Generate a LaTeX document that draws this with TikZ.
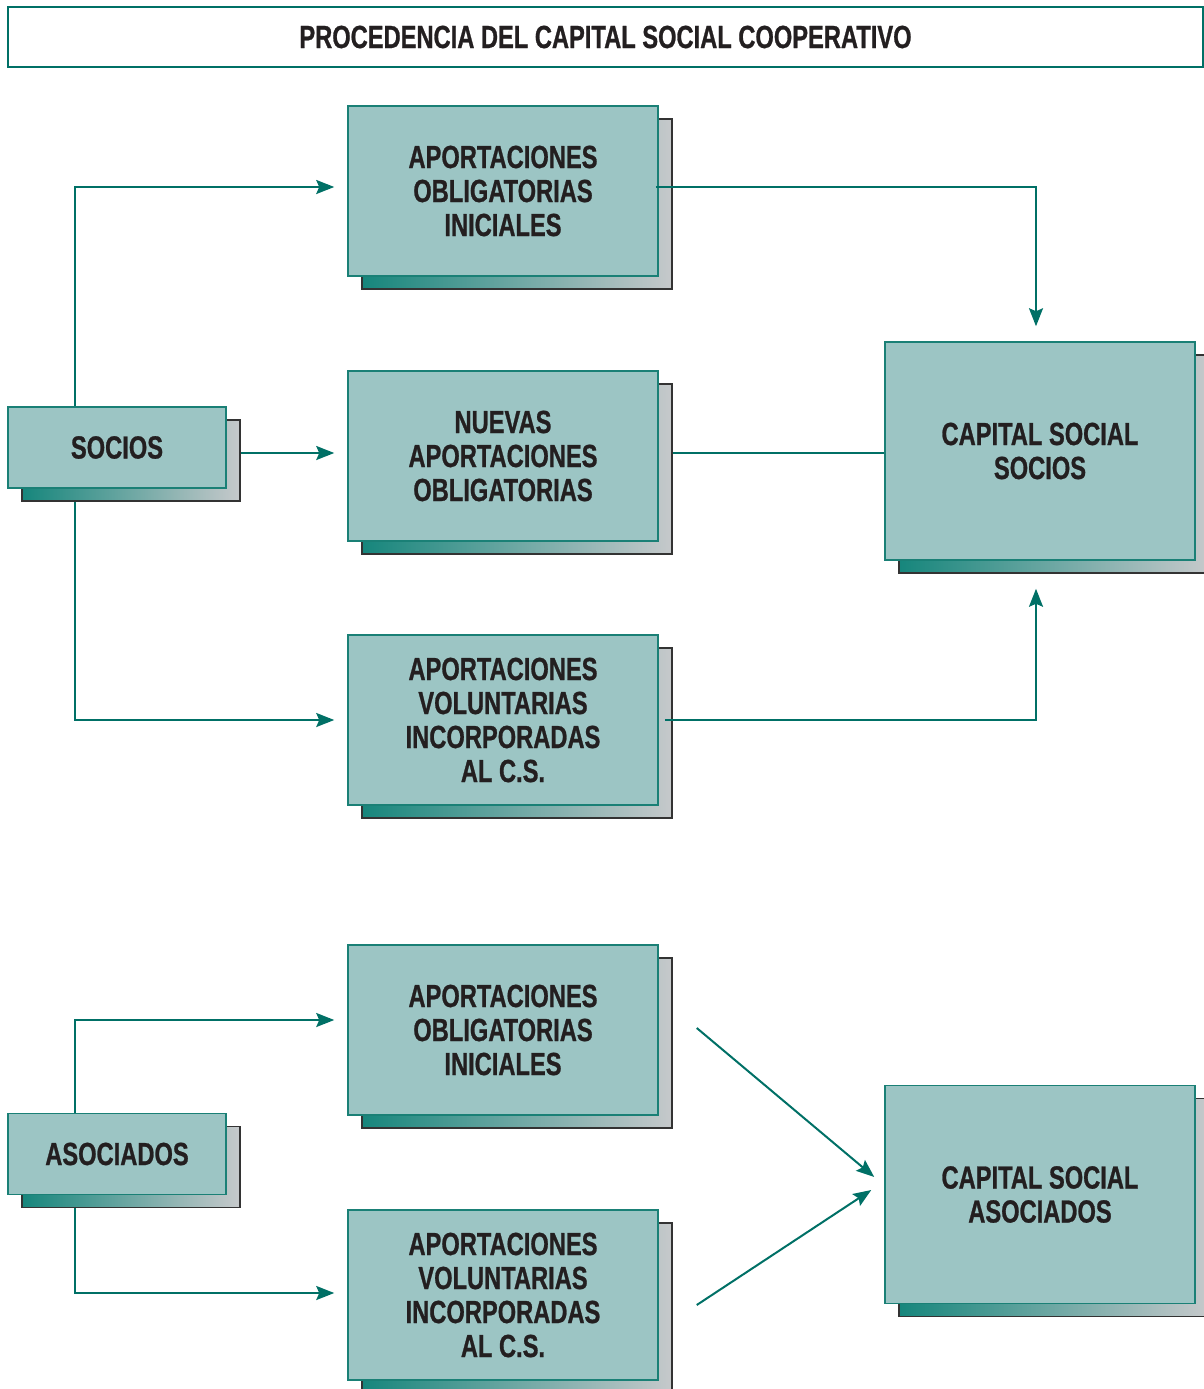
\documentclass[tikz,border=0pt]{standalone}
\usepackage{fontspec}
\newfontfamily\condensada{Liberation Sans}[FakeStretch=0.74, BoldFeatures={FakeBold=0.8}]
\usetikzlibrary{positioning,arrows.meta}
\definecolor{relleno}{RGB}{156,197,196}
\definecolor{borde}{RGB}{26,128,118}
\definecolor{linea}{RGB}{0,112,102}
\definecolor{sombraA}{RGB}{22,134,124}
\definecolor{sombraB}{RGB}{198,201,203}
\definecolor{sombraborde}{RGB}{51,51,51}
\definecolor{texto}{RGB}{35,31,32}

\begin{document}
\begin{tikzpicture}[x=1pt, y=-1pt, >={Stealth[length=18pt,width=14pt,inset=3pt]},
  letra/.style={text=texto, align=center, font=\condensada\bfseries\fontsize{32}{34}\selectfont},
  caja/.style={letra, draw=borde, line width=1.5pt, fill=relleno, inner sep=0pt,
    preaction={draw=sombraborde, line width=1.5pt, left color=sombraA, right color=sombraB,
      transform canvas={shift={(14pt,-13pt)}}}},
  chica/.style={caja, minimum width=218pt, minimum height=81pt},
  media/.style={caja, minimum width=310pt, minimum height=170pt},
  grande/.style={caja, minimum width=310pt, minimum height=218pt},
  enlace/.style={draw=linea, line width=2pt},
  flecha/.style={enlace, ->}
]
\useasboundingbox (0,0) rectangle (1204,1389);

% Title
\node[letra, draw=linea, line width=2.5pt, minimum width=1195pt, minimum height=60pt] (titulo) at (605.5,37) {PROCEDENCIA DEL CAPITAL SOCIAL COOPERATIVO};

% Socios
\node[chica] (socios) at (117,447.5) {SOCIOS};
\node[media] (obl) at (503,191) {APORTACIONES\\OBLIGATORIAS\\INICIALES};
\node[media, below=93.5pt of obl] (nuevas) {NUEVAS\\APORTACIONES\\OBLIGATORIAS};
\node[media, below=92.5pt of nuevas] (vol) {APORTACIONES\\VOLUNTARIAS\\INCORPORADAS\\AL C.S.};
\node[grande] (capsoc) at (1040,451) {CAPITAL SOCIAL\\SOCIOS};

% Asociados
\node[chica] (asoc) at (117,1154) {ASOCIADOS};
\node[media] (obl2) at (503,1030) {APORTACIONES\\OBLIGATORIAS\\INICIALES};
\node[media, below=93.5pt of obl2] (vol2) {APORTACIONES\\VOLUNTARIAS\\INCORPORADAS\\AL C.S.};
\node[grande] (capaso) at (1040,1194.5) {CAPITAL SOCIAL\\ASOCIADOS};

% Arrows socios
\draw[flecha] ([xshift=-42pt]socios.north) |- ([shift={(-13pt,4pt)}]obl.west);
\draw[flecha] ([shift={(14pt,-5.5pt)}]socios.east) -- ([shift={(-13pt,3pt)}]nuevas.west);
\draw[flecha] ([shift={(-42pt,-13pt)}]socios.south) |- ([xshift=-13pt]vol.west);
\draw[flecha] ([shift={(-3pt,4pt)}]obl.east) -| ([shift={(-4pt,15pt)}]capsoc.north);
\draw[enlace] ([shift={(14pt,3pt)}]nuevas.east) -- ([yshift=-2pt]capsoc.west);
\draw[flecha] ([xshift=6pt]vol.east) -| ([shift={(-4pt,-28pt)}]capsoc.south);

% Arrows asociados
\draw[flecha] ([xshift=-42pt]asoc.north) |- ([shift={(-13pt,10pt)}]obl2.west);
\draw[flecha] ([shift={(-42pt,-13pt)}]asoc.south) |- ([shift={(-13pt,2pt)}]vol2.west);
\draw[flecha] ([shift={(38pt,2pt)}]obl2.east) -- ([shift={(-10pt,17.5pt)}]capaso.west);
\draw[flecha] ([shift={(38pt,-10pt)}]vol2.east) -- ([shift={(-13pt,4.5pt)}]capaso.west);

\end{tikzpicture}
\end{document}
